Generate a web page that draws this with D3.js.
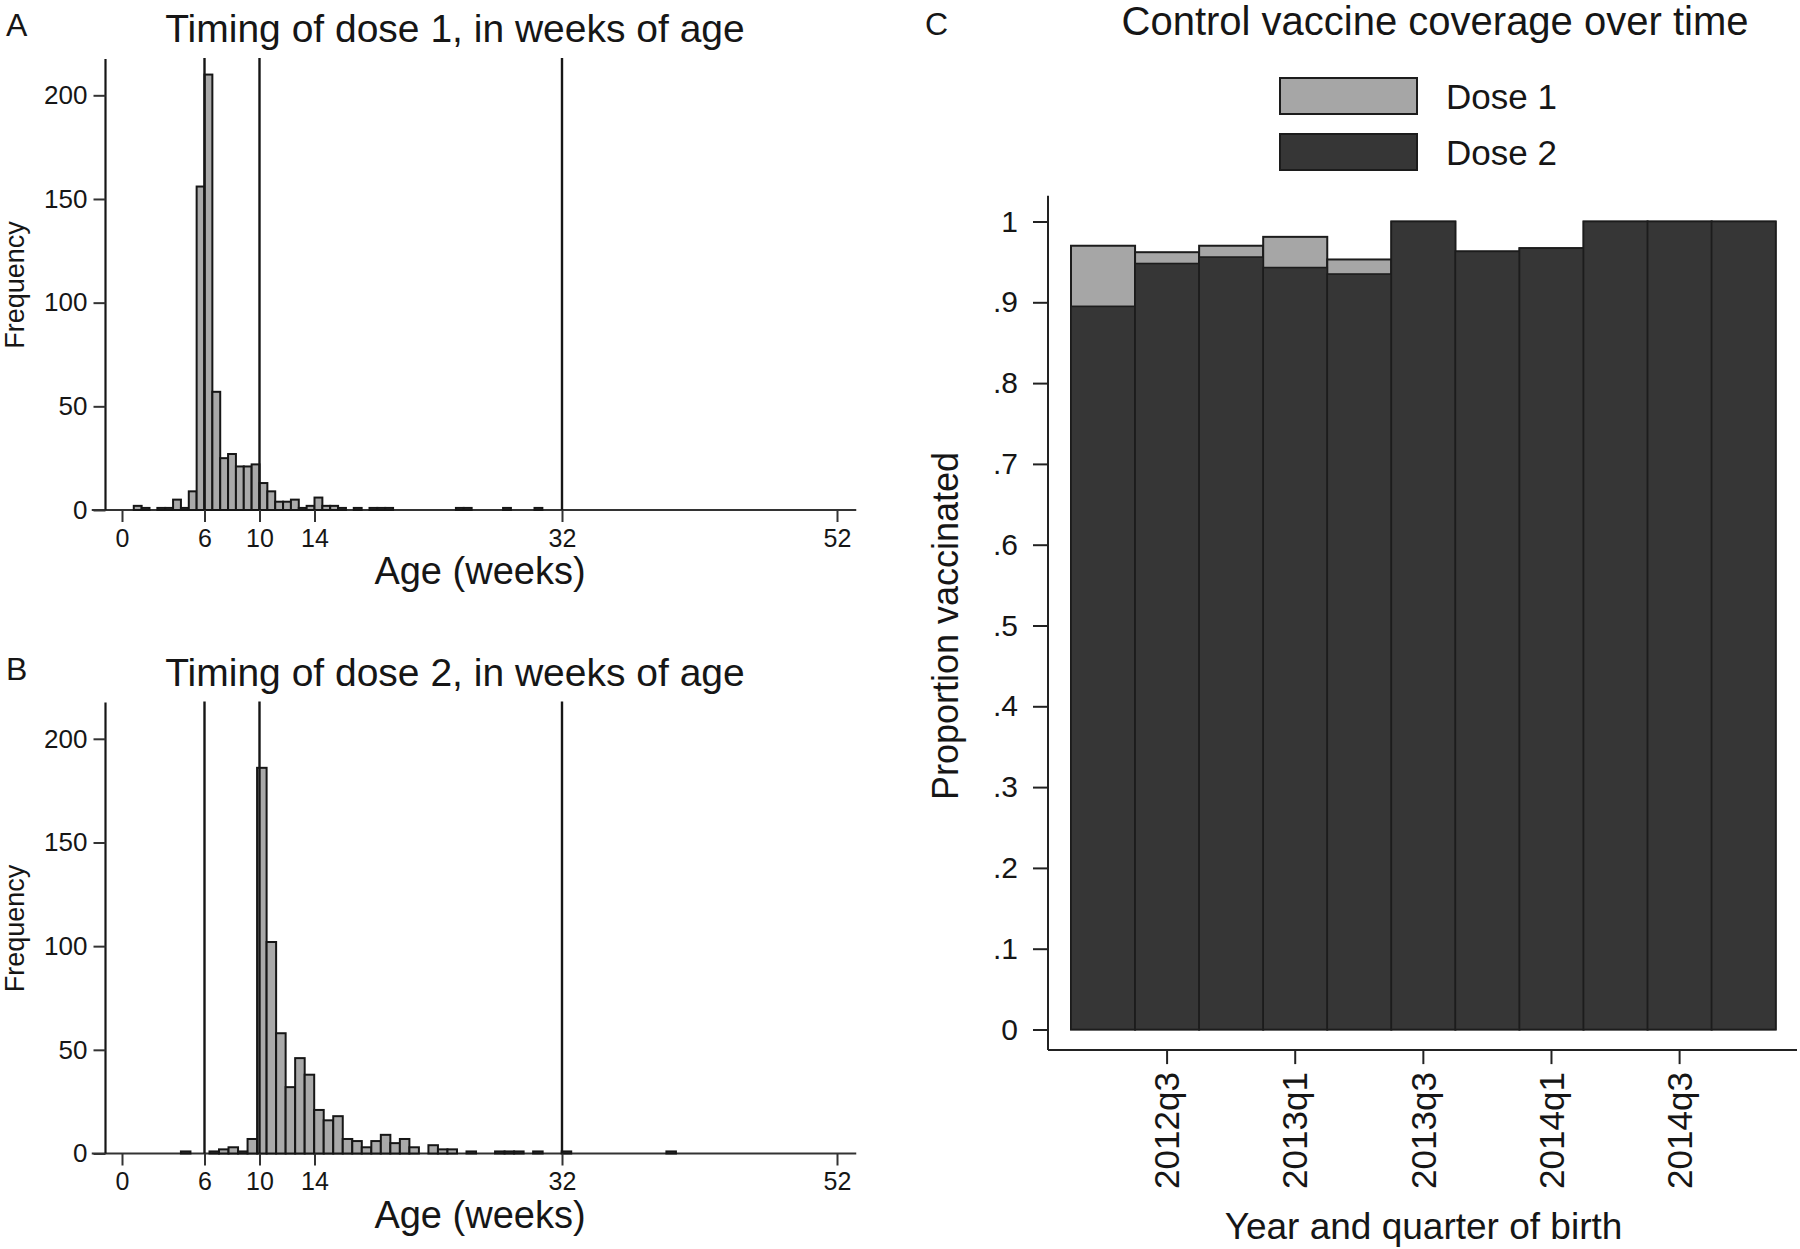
<!DOCTYPE html>
<html>
<head>
<meta charset="utf-8">
<script src="https://d3js.org/d3.v7.min.js"></script>
<style>
  html, body { margin: 0; padding: 0; background: #ffffff; }
  svg { display: block; }
  text { font-family: "Liberation Sans", Arial, Helvetica, sans-serif; fill: #161616; }
</style>
</head>
<body>
<svg id="chart" width="1800" height="1249"></svg>
<script>
// ---------------- Data ----------------
// Panel A: dose 1 age histogram, 52 bins of 4 days starting at day 6
const dose1BinStartDays = 6;
const dose1BinWidthDays = 4;
const dose1Counts = [2, 1, 0, 1, 1, 5, 1, 9, 156, 210, 57, 25, 27, 21, 21, 22, 13, 9, 4, 4,
                     5, 1, 2, 6, 2, 2, 1, 0, 1, 0, 1, 1, 1, 0, 0, 0, 0, 0, 0, 0,
                     0, 1, 1, 0, 0, 0, 0, 1, 0, 0, 0, 1];
// Panel B: dose 2 age histogram, 52 bins from day 30 to day 282
const dose2BinStartDays = 30;
const dose2BinEndDays = 282;
const dose2Counts = [1, 0, 0, 1, 2, 3, 1, 7, 186, 102, 58, 32, 46, 38, 21, 16, 18, 7, 6, 3,
                     6, 9, 5, 7, 3, 0, 4, 2, 2, 0, 1, 0, 0, 1, 1, 1, 0, 1, 0, 0,
                     1, 0, 0, 0, 0, 0, 0, 0, 0, 0, 0, 1];
const histXTicks = [0, 6, 10, 14, 32, 52];
const histYTicks = [0, 50, 100, 150, 200];
const dose1RefLines = [6, 10, 32];
const dose2RefLines = [6, 10, 32];

// Panel C: coverage by quarter of birth
const quarters = ["2012q2", "2012q3", "2012q4", "2013q1", "2013q2", "2013q3",
                  "2013q4", "2014q1", "2014q2", "2014q3", "2014q4"];
const coverageDose1 = [0.970, 0.962, 0.970, 0.981, 0.953, 1.000, 0.963, 0.967, 1.000, 1.000, 1.000];
const coverageDose2 = [0.895, 0.948, 0.956, 0.943, 0.935, 1.000, 0.963, 0.967, 1.000, 1.000, 1.000];
const quarterTicks = ["2012q3", "2013q1", "2013q3", "2014q1", "2014q3"];
const coverageYTicks = [0, 0.1, 0.2, 0.3, 0.4, 0.5, 0.6, 0.7, 0.8, 0.9, 1];
const legendLabels = ["Dose 1", "Dose 2"];

// ---------------- Drawing ----------------
const svg = d3.select("#chart");
const GRAY = "#a9a9a9";
const DARK = "#363636";
const LINE = "#161616";

function drawHistogram(offsetY, counts, startDays, widthDays, refLines, letter, title) {
  const g = svg.append("g").attr("transform", `translate(0,${offsetY})`);
  const x = d3.scaleLinear().domain([0, 52]).range([122, 837]);
  const base = 510;
  const y = d3.scaleLinear().domain([0, 200]).range([base, 95.3]);

  const bins = counts.map((c, i) => ({
    x0: (startDays + i * widthDays) / 7,
    x1: (startDays + (i + 1) * widthDays) / 7,
    count: c
  })).filter(d => d.count > 0);

  // axis lines
  g.append("line").attr("x1", x(-2.2)).attr("x2", x(53.4)).attr("y1", y(0)).attr("y2", y(0))
    .attr("stroke", "#333").attr("stroke-width", 2.2);
  g.append("line").attr("x1", x(-1.2)).attr("x2", x(-1.2)).attr("y1", y(217.5)).attr("y2", y(0))
    .attr("stroke", LINE).attr("stroke-width", 2.2);

  // bars
  g.append("g").selectAll("rect").data(bins).join("rect")
    .attr("x", d => x(d.x0))
    .attr("width", d => x(d.x1) - x(d.x0))
    .attr("y", d => y(d.count))
    .attr("height", d => y(0) - y(d.count))
    .attr("fill", GRAY)
    .attr("stroke", LINE)
    .attr("stroke-width", 2);

  // reference lines
  g.append("g").selectAll("line").data(refLines).join("line")
    .attr("x1", d => x(d)).attr("x2", d => x(d))
    .attr("y1", y(218)).attr("y2", y(0))
    .attr("stroke", LINE).attr("stroke-width", 2.4);

  // x axis ticks
  const xAxis = d3.axisBottom(x).tickValues(histXTicks).tickSize(12).tickPadding(7).tickFormat(d3.format("d"));
  const gx = g.append("g").attr("transform", `translate(0,${base})`).call(xAxis);
  gx.select(".domain").remove();
  gx.selectAll(".tick line").attr("stroke", "#333").attr("stroke-width", 2);
  gx.selectAll(".tick text").attr("font-size", 25).attr("fill", "#161616")
    .style("font-family", '"Liberation Sans", Arial, sans-serif');

  // y axis ticks
  const yAxis = d3.axisLeft(y).tickValues(histYTicks).tickSize(12).tickPadding(6).tickFormat(d3.format("d"));
  const gy = g.append("g").attr("transform", `translate(${x(-1.2)},0)`).call(yAxis);
  gy.select(".domain").remove();
  gy.selectAll(".tick line").attr("stroke", "#333").attr("stroke-width", 2);
  gy.selectAll(".tick text").attr("font-size", 26).attr("fill", "#161616")
    .style("font-family", '"Liberation Sans", Arial, sans-serif');

  // titles
  g.append("text").attr("x", 6).attr("y", 36).attr("font-size", 32).text(letter);
  g.append("text").attr("x", 455).attr("y", 42).attr("text-anchor", "middle")
    .attr("font-size", 39).text(title);
  g.append("text").attr("x", 480).attr("y", 584).attr("text-anchor", "middle")
    .attr("font-size", 38).text("Age (weeks)");
  g.append("text").attr("transform", "translate(24,285) rotate(-90)")
    .attr("text-anchor", "middle").attr("font-size", 27).text("Frequency");
}

drawHistogram(0, dose1Counts, dose1BinStartDays, dose1BinWidthDays, dose1RefLines,
  "A", "Timing of dose 1, in weeks of age");
drawHistogram(643.5, dose2Counts, dose2BinStartDays, (dose2BinEndDays - dose2BinStartDays) / dose2Counts.length,
  dose2RefLines, "B", "Timing of dose 2, in weeks of age");

// ---------- Panel C ----------
(function () {
  const g = svg.append("g");
  const xb = d3.scaleBand().domain(quarters).range([1071, 1775.7]).padding(0);
  const y = d3.scaleLinear().domain([0, 1]).range([1029.5, 221.5]);
  const axisLeftX = 1048;
  const axisBottomY = y(-0.0255);

  // axis lines
  g.append("line").attr("x1", axisLeftX).attr("x2", axisLeftX).attr("y1", y(1.032)).attr("y2", axisBottomY)
    .attr("stroke", "#222").attr("stroke-width", 2);
  g.append("line").attr("x1", axisLeftX).attr("x2", 1797).attr("y1", axisBottomY).attr("y2", axisBottomY)
    .attr("stroke", "#222").attr("stroke-width", 2);

  const data = quarters.map((q, i) => ({ q, d1: coverageDose1[i], d2: coverageDose2[i] }));

  // dose 1 bars (behind)
  g.append("g").selectAll("rect").data(data).join("rect")
    .attr("x", d => xb(d.q)).attr("width", xb.bandwidth())
    .attr("y", d => y(d.d1)).attr("height", d => y(0) - y(d.d1))
    .attr("fill", "#a6a6a6").attr("stroke", "#1c1c1c").attr("stroke-width", 2);
  // dose 2 bars (front)
  g.append("g").selectAll("rect").data(data).join("rect")
    .attr("x", d => xb(d.q)).attr("width", xb.bandwidth())
    .attr("y", d => y(d.d2)).attr("height", d => y(0) - y(d.d2))
    .attr("fill", DARK).attr("stroke", "#1c1c1c").attr("stroke-width", 1.6);

  // y axis
  const fmt = d => d === 0 ? "0" : d === 1 ? "1" : d3.format(".1f")(d).replace(/^0/, "");
  const gy = g.append("g").attr("transform", `translate(${axisLeftX},0)`)
    .call(d3.axisLeft(y).tickValues(coverageYTicks).tickSize(15).tickPadding(15).tickFormat(fmt));
  gy.select(".domain").remove();
  gy.selectAll(".tick line").attr("stroke", "#222").attr("stroke-width", 2);
  gy.selectAll(".tick text").attr("font-size", 30).attr("fill", "#161616")
    .style("font-family", '"Liberation Sans", Arial, sans-serif');

  // x axis
  const gx = g.append("g").attr("transform", `translate(0,${axisBottomY})`)
    .call(d3.axisBottom(xb).tickValues(quarterTicks).tickSize(14).tickPadding(0));
  gx.select(".domain").remove();
  gx.selectAll(".tick line").attr("stroke", "#222").attr("stroke-width", 2);
  gx.selectAll(".tick text")
    .attr("font-size", 35).attr("fill", "#161616")
    .style("font-family", '"Liberation Sans", Arial, sans-serif')
    .attr("text-anchor", "end")
    .attr("transform", "translate(0,22) rotate(-90)")
    .attr("x", 0).attr("y", 0).attr("dy", "0.35em");

  // titles
  g.append("text").attr("x", 925).attr("y", 35).attr("font-size", 32).text("C");
  g.append("text").attr("x", 1435).attr("y", 35).attr("text-anchor", "middle")
    .attr("font-size", 40).text("Control vaccine coverage over time");
  g.append("text").attr("transform", "translate(958,626) rotate(-90)")
    .attr("text-anchor", "middle").attr("font-size", 36).text("Proportion vaccinated");
  g.append("text").attr("x", 1423.5).attr("y", 1239).attr("text-anchor", "middle")
    .attr("font-size", 37).text("Year and quarter of birth");

  // legend
  const legend = g.append("g");
  const legendFills = ["#a6a6a6", DARK];
  legendLabels.forEach((lab, i) => {
    legend.append("rect").attr("x", 1280).attr("y", 78 + i * 56).attr("width", 137).attr("height", 36)
      .attr("fill", legendFills[i]).attr("stroke", "#1c1c1c").attr("stroke-width", 2);
    legend.append("text").attr("x", 1446).attr("y", 109 + i * 56).attr("font-size", 35).text(lab);
  });
})();
</script>
</body>
</html>
